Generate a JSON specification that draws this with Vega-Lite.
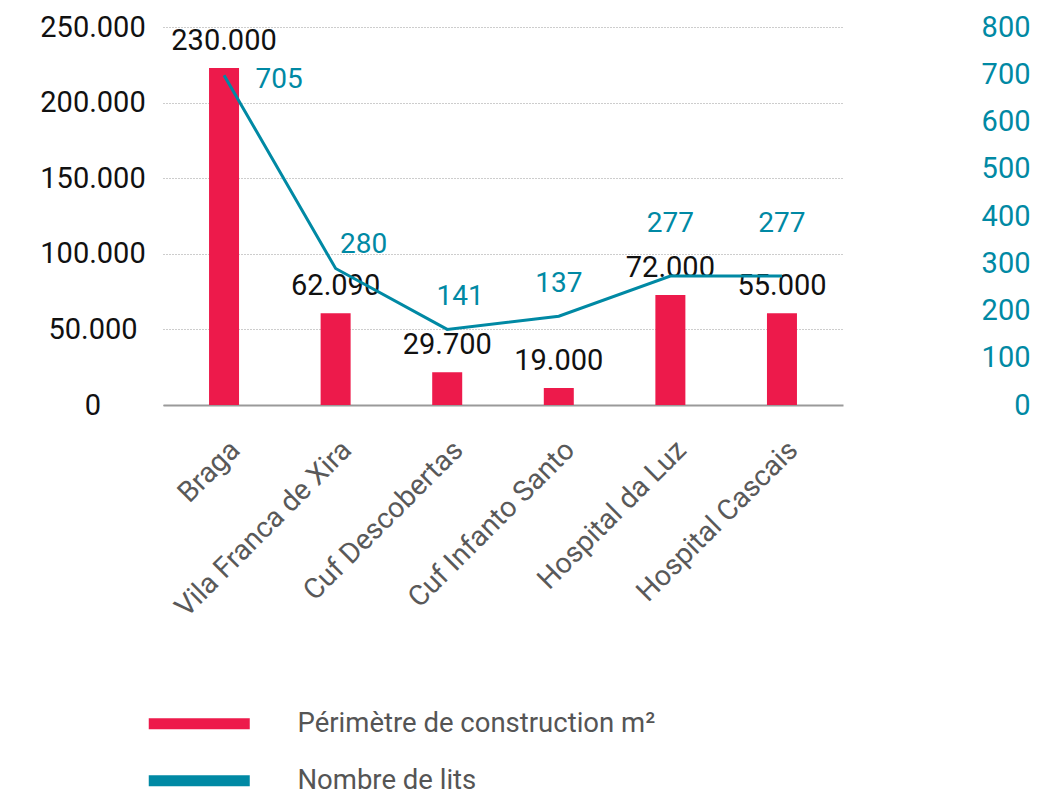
{
  "$schema": "https://vega.github.io/schema/vega-lite/v6.json",
  "width": 680,
  "height": 378,
  "autosize": {"type": "none"},
  "padding": {"left": 163, "top": 27, "right": 197, "bottom": 389},
  "background": "white",
  "config": {"view": {"stroke": null}, "font": "Roboto"},
  "data": {
    "values": [
      {"site": "Braga", "area": 222900, "area_label": "230.000", "beds": 698, "beds_label": "705"},
      {"site": "Vila Franca de Xira", "area": 60650, "area_label": "62.090", "beds": 289, "beds_label": "280"},
      {"site": "Cuf Descobertas", "area": 21630, "area_label": "29.700", "beds": 160, "beds_label": "141"},
      {"site": "Cuf Infanto Santo", "area": 11240, "area_label": "19.000", "beds": 188, "beds_label": "137"},
      {"site": "Hospital da Luz", "area": 72750, "area_label": "72.000", "beds": 273, "beds_label": "277"},
      {"site": "Hospital Cascais", "area": 60650, "area_label": "55.000", "beds": 273, "beds_label": "277"}
    ]
  },
  "encoding": {
    "x": {
      "field": "site",
      "type": "nominal",
      "sort": null,
      "scale": {
        "domain": ["Braga", "Vila Franca de Xira", "Cuf Descobertas", "Cuf Infanto Santo", "Hospital da Luz", "Hospital Cascais"],
        "paddingInner": 0,
        "paddingOuter": 0.047
      },
      "axis": {
        "title": null,
        "labelAngle": -45,
        "labelAlign": "right",
        "labelBaseline": "middle",
        "labelFont": "Roboto",
        "labelFontSize": 28.5,
        "labelColor": "#595959",
        "labelPadding": 40,
        "labelOffset": 11,
        "labelLimit": 400,
        "ticks": false,
        "grid": false,
        "domainColor": "#9a9a9a",
        "domainWidth": 2
      }
    }
  },
  "layer": [
    {
      "encoding": {
        "y": {
          "field": "area",
          "type": "quantitative",
          "scale": {"domain": [0, 250000], "nice": false, "zero": true},
          "axis": {
            "title": null,
            "orient": "left",
            "values": [0, 50000, 100000, 150000, 200000, 250000],
            "labelExpr": "replace(format(datum.value, ','), ',', '.')",
            "labelFont": "Roboto",
            "labelFontSize": 29,
            "labelColor": "#111111",
            "labelAlign": "center",
            "labelBaseline": "middle",
            "labelPadding": 70.5,
            "ticks": false,
            "tickSize": 0,
            "domain": false,
            "grid": true,
            "gridColor": "#9a9a9a",
            "gridDash": [1, 2],
            "gridWidth": 1
          }
        }
      },
      "layer": [
        {
          "mark": {"type": "bar", "width": 30},
          "encoding": {
            "color": {
              "datum": "Périmètre de construction m²",
              "type": "nominal",
              "scale": {
                "domain": ["Périmètre de construction m²", "Nombre de lits"],
                "range": ["#ED1A4B", "#0089A4"]
              },
              "legend": {
                "title": null,
                "orient": "none",
                "legendX": 22.5,
                "legendY": 683,
                "direction": "vertical",
                "symbolType": "M-5.05,-0.55H5.05V0.55H-5.05Z",
                "symbolSize": 400,
                "symbolStrokeWidth": 0,
                "symbolOpacity": 1,
                "labelFont": "Roboto",
                "labelFontSize": 27.5,
                "labelColor": "#555555",
                "labelOffset": 84.5,
                "labelLimit": 600,
                "rowPadding": 28,
                "padding": 0
              }
            }
          }
        },
        {
          "mark": {"type": "text", "dy": -27, "fontSize": 29, "font": "Roboto", "color": "#111111", "align": "center", "baseline": "middle"},
          "encoding": {"text": {"field": "area_label", "type": "nominal"}}
        }
      ]
    },
    {
      "encoding": {
        "y": {
          "field": "beds",
          "type": "quantitative",
          "scale": {"domain": [0, 800], "nice": false, "zero": true},
          "axis": {
            "title": null,
            "orient": "right",
            "values": [0, 100, 200, 300, 400, 500, 600, 700, 800],
            "labelFont": "Roboto",
            "labelFontSize": 29,
            "labelColor": "#0089A4",
            "labelAlign": "right",
            "labelBaseline": "middle",
            "labelPadding": 187,
            "ticks": false,
            "tickSize": 0,
            "domain": false,
            "grid": false
          }
        }
      },
      "layer": [
        {
          "mark": {"type": "line", "color": "#0089A4", "strokeWidth": 3},
          "encoding": {}
        },
        {
          "transform": [{"filter": {"field": "site", "oneOf": ["Braga"]}}],
          "mark": {"type": "text", "dx": 55, "dy": 5, "fontSize": 28, "font": "Roboto", "color": "#0089A4", "align": "center", "baseline": "middle"},
          "encoding": {"text": {"field": "beds_label", "type": "nominal"}}
        },
        {
          "transform": [{"filter": {"field": "site", "oneOf": ["Vila Franca de Xira"]}}],
          "mark": {"type": "text", "dx": 28, "dy": -23, "fontSize": 28, "font": "Roboto", "color": "#0089A4", "align": "center", "baseline": "middle"},
          "encoding": {"text": {"field": "beds_label", "type": "nominal"}}
        },
        {
          "transform": [{"filter": {"field": "site", "oneOf": ["Cuf Descobertas"]}}],
          "mark": {"type": "text", "dx": 13, "dy": -32, "fontSize": 28, "font": "Roboto", "color": "#0089A4", "align": "center", "baseline": "middle"},
          "encoding": {"text": {"field": "beds_label", "type": "nominal"}}
        },
        {
          "transform": [{"filter": {"field": "site", "oneOf": ["Cuf Infanto Santo"]}}],
          "mark": {"type": "text", "dx": 0, "dy": -32, "fontSize": 28, "font": "Roboto", "color": "#0089A4", "align": "center", "baseline": "middle"},
          "encoding": {"text": {"field": "beds_label", "type": "nominal"}}
        },
        {
          "transform": [{"filter": {"field": "site", "oneOf": ["Hospital da Luz", "Hospital Cascais"]}}],
          "mark": {"type": "text", "dx": 0, "dy": -52, "fontSize": 28, "font": "Roboto", "color": "#0089A4", "align": "center", "baseline": "middle"},
          "encoding": {"text": {"field": "beds_label", "type": "nominal"}}
        }
      ]
    }
  ],
  "resolve": {"scale": {"y": "independent"}}
}
